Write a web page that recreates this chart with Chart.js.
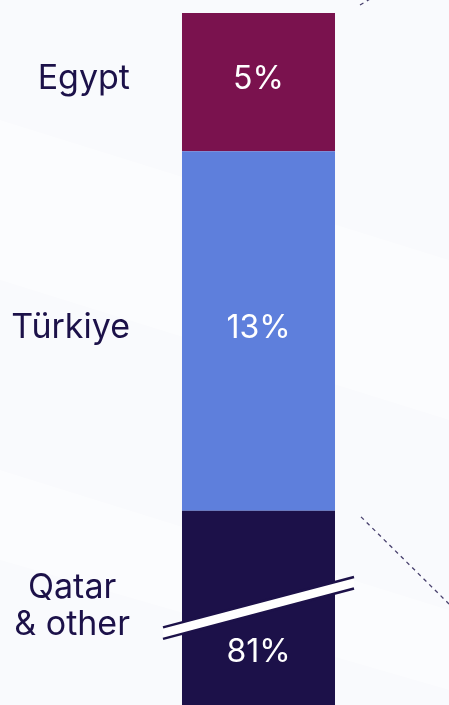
<!DOCTYPE html>
<html>
<head>
<meta charset="utf-8">
<script src="https://cdn.jsdelivr.net/npm/chart.js@4.4.1/dist/chart.umd.min.js"></script>
<style>
  html, body { margin: 0; padding: 0; background: #f9fafd; }
  #wrap { position: relative; width: 449px; height: 705px; }
</style>
</head>
<body>
<div id="wrap"><canvas id="myChart"></canvas></div>
<script>
// stacked bottom -> top
var categories = ["Qatar\n& other", "Türkiye", "Egypt"];
var shares = [81, 13, 5];
var valueLabels = ["81%", "13%", "5%"];
var barColors = ["#1c1149", "#5e7fdc", "#7a124e"];

// y axis is cut so that only the top of the big segment shows
var yMin = 73.98;
var yMax = 99.47;

var navy = "#1c1149";
var font = "Inter, 'Open Sans', sans-serif";

var datasets = shares.map(function(v, i) {
    return {
        label: categories[i],
        data: [v],
        backgroundColor: barColors[i],
        borderWidth: 0,
        barPercentage: 1,
        categoryPercentage: 0.4016
    };
});

// faint diagonal light streaks behind the chart
var backdrop = {
    id: "backdrop",
    beforeDraw: function(chart) {
        var ctx = chart.ctx;
        ctx.save();
        ctx.fillStyle = "#f9fafd";
        ctx.fillRect(0, 0, chart.width, chart.height);
        ctx.fillStyle = "rgba(255,255,255,0.4)";
        ctx.beginPath();
        ctx.moveTo(0, 120); ctx.lineTo(449, 260); ctx.lineTo(449, 420); ctx.lineTo(0, 280);
        ctx.fill();
        ctx.beginPath();
        ctx.moveTo(0, 470); ctx.lineTo(449, 610); ctx.lineTo(449, 690); ctx.lineTo(0, 560);
        ctx.fill();
        ctx.restore();
    }
};

var segmentText = {
    id: "segmentText",
    afterDatasetsDraw: function(chart) {
        var ctx = chart.ctx;
        var area = chart.chartArea;
        ctx.save();
        ctx.textBaseline = "alphabetic";

        chart.data.datasets.forEach(function(ds, i) {
            var bar = chart.getDatasetMeta(i).data[0];
            var top = Math.max(bar.y, area.top);
            var bottom = Math.min(bar.base, area.bottom);
            var mid = (top + bottom) / 2;
            var left = bar.x - bar.width / 2;
            var right = bar.x + bar.width / 2;
            var cut = bar.base > area.bottom;

            // value inside the bar
            ctx.font = "32px " + font;
            ctx.fillStyle = "#ffffff";
            ctx.textAlign = "center";
            ctx.fillText(valueLabels[i], bar.x, cut ? area.bottom - 43 : mid + 7);

            // category name on the left
            ctx.font = "34px " + font;
            ctx.fillStyle = navy;
            var lines = categories[i].split("\n");
            if (lines.length == 1) {
                ctx.textAlign = "right";
                ctx.fillText(lines[0], left - 52, mid + 7);
            } else {
                var w = 0;
                lines.forEach(function(l) { w = Math.max(w, ctx.measureText(l).width); });
                ctx.textAlign = "center";
                var lh = 37;
                lines.forEach(function(l, k) {
                    ctx.fillText(l, left - 52 - w / 2, mid - 10 + k * lh);
                });
            }

            // axis break across the truncated segment
            if (cut) {
                var slope = -0.264;
                var x0 = left - 19, x1 = right + 19;
                var gap = 11.5;
                var yAt = function(x, off) { return mid + off + slope * (x - bar.x); };
                ctx.fillStyle = "#ffffff";
                ctx.beginPath();
                ctx.moveTo(x0, yAt(x0, -gap / 2));
                ctx.lineTo(x1, yAt(x1, -gap / 2));
                ctx.lineTo(x1, yAt(x1, gap / 2));
                ctx.lineTo(x0, yAt(x0, gap / 2));
                ctx.closePath();
                ctx.fill();
                ctx.strokeStyle = navy;
                ctx.lineWidth = 2.5;
                [-gap / 2, gap / 2].forEach(function(off) {
                    ctx.beginPath();
                    ctx.moveTo(x0, yAt(x0, off));
                    ctx.lineTo(x1, yAt(x1, off));
                    ctx.stroke();
                });
            }
        });

        // dashed connectors leading off to the right
        var stackTop = chart.getDatasetMeta(2).data[0];
        var joint = chart.getDatasetMeta(0).data[0];
        var rx = stackTop.x + stackTop.width / 2;
        ctx.strokeStyle = "rgba(28,17,73,0.8)";
        ctx.lineWidth = 1.3;
        ctx.setLineDash([4, 4]);
        ctx.beginPath();
        ctx.moveTo(rx + 26, joint.y + 6);
        ctx.lineTo(chart.width, joint.y + 6 + (chart.width - rx - 26) * 0.99);
        ctx.stroke();
        ctx.beginPath();
        ctx.moveTo(rx + 25, stackTop.y - 8);
        ctx.lineTo(rx + 45, stackTop.y - 20);
        ctx.stroke();
        ctx.restore();
    }
};

new Chart("myChart", {
    type: "bar",
    data: {
        labels: [""],
        datasets: datasets
    },
    options: {
        responsive: true,
        maintainAspectRatio: false,
        animation: false,
        layout: { padding: { left: 68, right: 0, top: 0, bottom: 0 } },
        plugins: {
            legend: { display: false },
            tooltip: { enabled: false }
        },
        scales: {
            x: { stacked: true, display: false },
            y: { stacked: true, display: false, min: yMin, max: yMax }
        }
    },
    plugins: [backdrop, segmentText]
});
</script>
</body>
</html>
